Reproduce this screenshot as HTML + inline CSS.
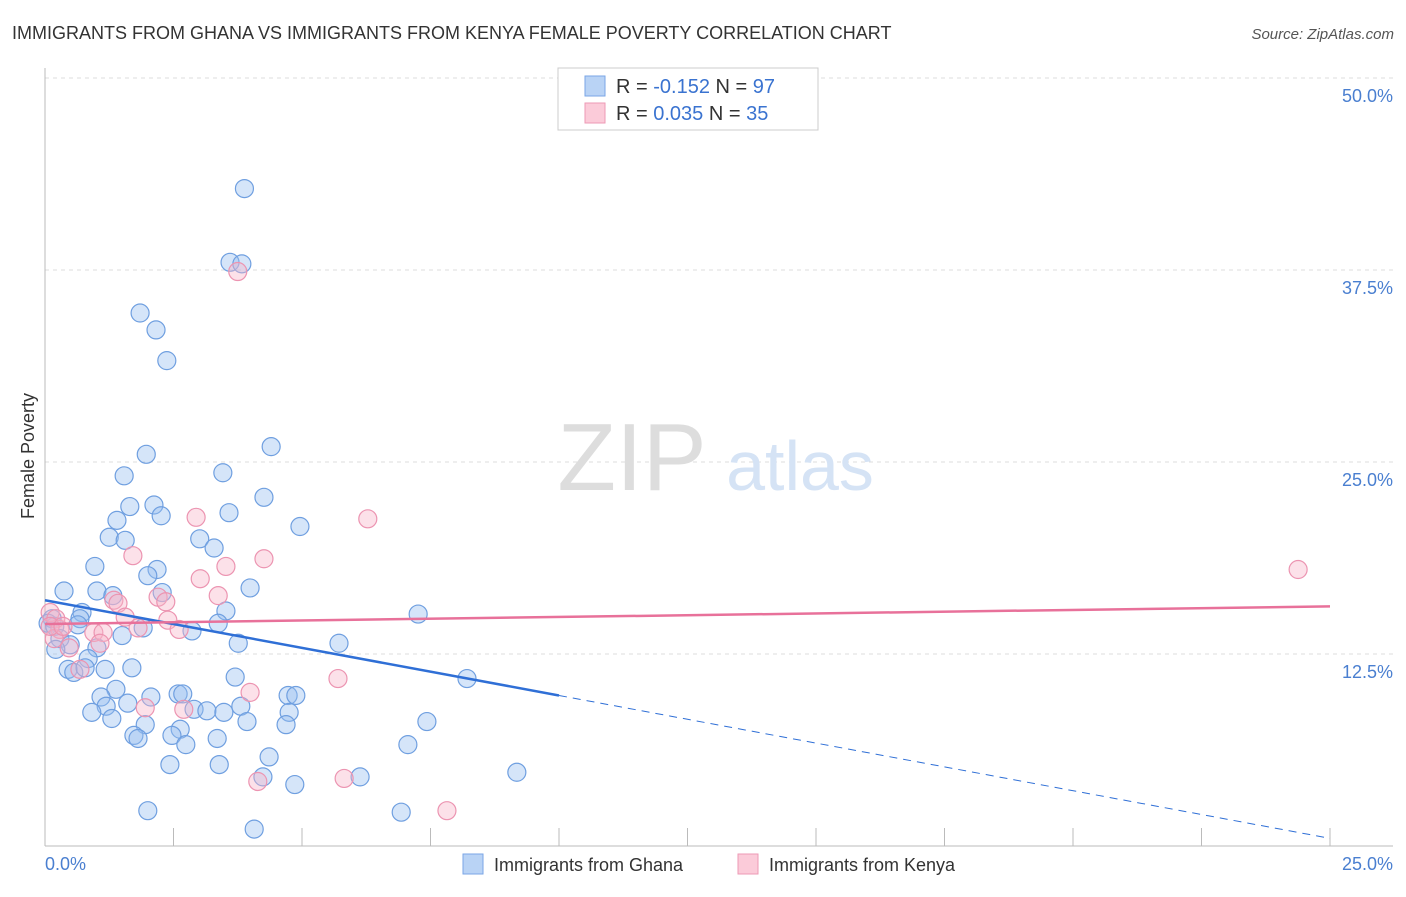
<!DOCTYPE html>
<html><head><meta charset="utf-8"><style>
body{margin:0;background:#fff;font-family:"Liberation Sans",sans-serif}
svg text{font-family:"Liberation Sans",sans-serif}
</style></head><body>
<svg width="1406" height="892" viewBox="0 0 1406 892">
<text x="12" y="39" font-size="18" fill="#333">IMMIGRANTS FROM GHANA VS IMMIGRANTS FROM KENYA FEMALE POVERTY CORRELATION CHART</text>
<text x="1394" y="39" font-size="15" fill="#555" font-style="italic" text-anchor="end">Source: ZipAtlas.com</text>
<g id="grid"></g>
<g><text x="632" y="490" font-size="96" fill="#ddd" font-family="Liberation Serif" text-anchor="middle">ZIP</text><text x="800" y="490" font-size="70" fill="#d5e3f5" text-anchor="middle">atlas</text></g>
<text transform="translate(34,456) rotate(-90)" font-size="18" fill="#333" text-anchor="middle">Female Poverty</text>
<g id="yticks"></g>
<text x="45" y="870" font-size="18" fill="#4a7fd0">0.0%</text>
<text x="1393" y="870" font-size="18" fill="#4a7fd0" text-anchor="end">25.0%</text>
<g id="pts"></g>
<g id="trend"></g>
<g>
<rect x="558" y="68" width="260" height="62" fill="#fff" stroke="#ccc"/>
<rect x="585" y="76" width="20" height="20" fill="#b9d3f5" stroke="#7aa6e6"/>
<rect x="585" y="103" width="20" height="20" fill="#fbcbd9" stroke="#ee9ab5"/>
<text x="616" y="93" font-size="20" fill="#333">R = <tspan fill="#3a73d0">-0.152</tspan>   N = <tspan fill="#3a73d0">97</tspan></text>
<text x="616" y="120" font-size="20" fill="#333">R =  <tspan fill="#3a73d0">0.035</tspan>   N = <tspan fill="#3a73d0">35</tspan></text>
</g>
<g>
<rect x="463" y="854" width="20" height="20" fill="#b9d3f5" stroke="#7aa6e6"/>
<text x="494" y="871" font-size="18" fill="#333">Immigrants from Ghana</text>
<rect x="738" y="854" width="20" height="20" fill="#fbcbd9" stroke="#ee9ab5"/>
<text x="769" y="871" font-size="18" fill="#333">Immigrants from Kenya</text>
</g>
</svg>
<script>
const yTicks=[12.5,25,37.5,50];
const yTickLabels=["12.5%","25.0%","37.5%","50.0%"];
const xTicks=[0,2.5,5,7.5,10,12.5,15,17.5,20,22.5,25];
const ghanaX=[3.88,3.6,3.83,1.85,2.16,2.37,4.4,1.97,3.46,1.54,4.26,2.12,1.65,3.58,2.26,4.96,1.4,1.25,1.56,3.01,3.29,0.97,2.18,2.0,0.37,1.01,1.32,2.28,3.99,3.52,0.72,0.68,0.14,0.64,1.91,3.37,1.5,2.86,0.06,0.19,0.29,0.49,1.01,3.76,5.72,7.26,0.21,0.84,0.45,0.56,0.78,1.17,1.69,3.7,8.21,1.38,1.09,1.61,2.06,2.59,2.68,1.19,0.91,1.3,2.9,3.15,3.48,3.81,4.73,4.88,4.75,3.93,1.95,2.63,1.73,2.47,1.81,3.35,2.74,4.69,7.43,4.36,7.06,2.43,3.39,4.24,6.13,9.18,4.86,2.0,6.93,4.07];
const ghanaY=[42.8,38.0,37.9,34.7,33.6,31.6,26.0,25.5,24.3,24.1,22.7,22.2,22.1,21.7,21.5,20.8,21.2,20.1,19.9,20.0,19.4,18.2,18.0,17.6,16.6,16.6,16.3,16.5,16.8,15.3,15.2,14.8,14.8,14.4,14.2,14.5,13.7,14.0,14.5,14.3,13.5,13.1,12.9,13.2,13.2,15.1,12.8,12.2,11.5,11.3,11.6,11.5,11.6,11.0,10.9,10.2,9.7,9.3,9.7,9.9,9.9,9.1,8.7,8.3,8.9,8.8,8.7,9.1,9.8,9.8,8.7,8.1,7.9,7.6,7.2,7.2,7.0,7.0,6.6,7.9,8.1,5.8,6.6,5.3,5.3,4.5,4.5,4.8,4.0,2.3,2.2,1.1];
const kenyaX=[3.75,2.94,6.28,1.71,4.26,3.52,3.02,24.38,1.34,1.42,2.2,2.35,3.37,1.56,2.39,1.81,2.61,0.1,0.21,0.29,0.95,1.13,1.07,0.18,0.47,0.68,3.99,5.7,1.95,2.7,5.82,4.14,7.82,0.1,0.35];
const kenyaY=[37.4,21.4,21.3,18.9,18.7,18.2,17.4,18.0,16.0,15.8,16.2,15.9,16.3,14.9,14.7,14.2,14.1,15.2,14.8,14.1,13.9,13.9,13.2,13.5,12.9,11.5,10.0,10.9,9.0,8.9,4.4,4.2,2.3,14.3,14.3];
const ghanaTrend=[16.0,0.5];
const kenyaTrend=[14.45,15.6];
const NS="http://www.w3.org/2000/svg";
const X0=45,X1=1330,Y0=846,PXPER=192/12.5;
const sx=v=>X0+(v/25)*(X1-X0);
const sy=v=>Y0-v*PXPER;
function mk(tag,attrs,parent){const e=document.createElementNS(NS,tag);for(const k in attrs)e.setAttribute(k,attrs[k]);parent.appendChild(e);return e;}
const grid=document.getElementById('grid');
yTicks.forEach((t,i)=>{
 const l=mk('line',{x1:45,x2:1393,y1:sy(t),y2:sy(t),stroke:'#ddd','stroke-dasharray':'4,4'},grid);
 
 
 const tx=mk('text',{x:1393,y:sy(t)+24,'font-size':18,fill:'#4a7fd0','text-anchor':'end'},document.getElementById('yticks'));
 tx.textContent=yTickLabels[i];
 
 
});
const ax=mk('line',{x1:45,x2:1393,y1:846,y2:846,stroke:'#bbb'},grid);


const ay=mk('line',{x1:45,x2:45,y1:68,y2:846,stroke:'#bbb'},grid);


xTicks.forEach(t=>{
 const l=mk('line',{x1:sx(t),x2:sx(t),y1:828,y2:846,stroke:'#bbb'},grid);
 
 
});
const pts=document.getElementById('pts');
ghanaX.forEach((x,i)=>{
 const c=mk('circle',{cx:sx(x),cy:sy(ghanaY[i]),r:9,fill:'rgba(150,190,240,0.4)',stroke:'#6f9fe0','stroke-width':1.2},pts);
 
 
});
kenyaX.forEach((x,i)=>{
 const c=mk('circle',{cx:sx(x),cy:sy(kenyaY[i]),r:9,fill:'rgba(248,180,200,0.4)',stroke:'#ec94b1','stroke-width':1.2},pts);
 
 
});
const tr=document.getElementById('trend');
const gy=x=>ghanaTrend[0]+(ghanaTrend[1]-ghanaTrend[0])*x/25;
const g1=mk('line',{x1:sx(0),y1:sy(gy(0)),x2:sx(10),y2:sy(gy(10)),stroke:'#2f6fd6','stroke-width':2.5},tr);


const g2=mk('line',{x1:sx(10),y1:sy(gy(10)),x2:sx(25),y2:sy(gy(25)),stroke:'#2f6fd6','stroke-width':1,'stroke-dasharray':'8,6'},tr);


const k1=mk('line',{x1:sx(0),y1:sy(kenyaTrend[0]),x2:sx(25),y2:sy(kenyaTrend[1]),stroke:'#e8719a','stroke-width':2.5},tr);


</script>
</body></html>
